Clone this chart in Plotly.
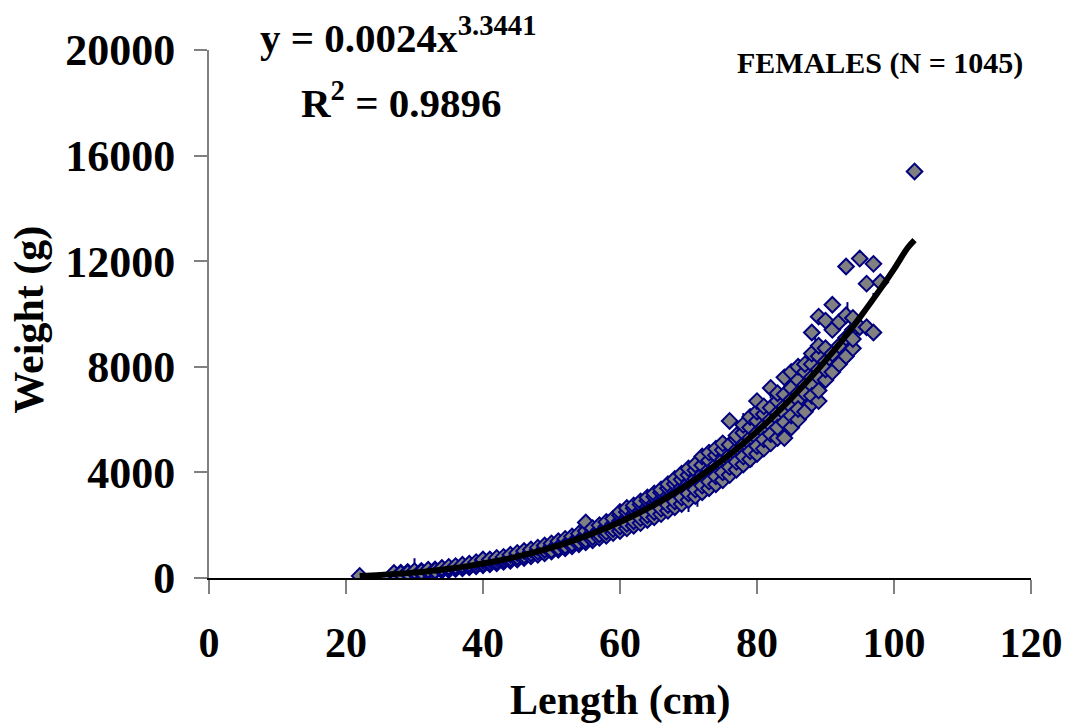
import plotly.graph_objects as go

# length (cm) -> weights (g), grouped by length
points = {
    22: [80],
    27: [150, 190],
    28: [140, 200, 170],
    29: [160, 230, 190],
    30: [180, 240, 210, 260],
    31: [200, 270, 230],
    32: [230, 290, 260, 310],
    33: [250, 320, 280],
    34: [280, 350, 310, 380],
    35: [300, 390, 340, 420],
    36: [340, 420, 380, 450],
    37: [370, 460, 410, 500],
    38: [410, 500, 450, 540],
    39: [440, 540, 490, 600],
    40: [480, 600, 540, 650, 700],
    41: [520, 640, 590, 700],
    42: [560, 690, 640, 760],
    43: [610, 740, 690, 800],
    44: [650, 800, 740, 880],
    45: [700, 860, 800, 950],
    46: [760, 930, 860, 1020],
    47: [820, 990, 930, 1080],
    48: [880, 1060, 1000, 1150],
    49: [940, 1130, 1070, 1230],
    50: [1000, 1200, 1130, 1310, 1050],
    51: [1070, 1280, 1200, 1390, 1150],
    52: [1130, 1360, 1290, 1480, 1220],
    53: [1200, 1450, 1370, 1570, 1300],
    54: [1280, 1540, 1450, 1680, 1380],
    55: [1350, 1630, 1550, 1780, 1450, 2100],
    56: [1430, 1730, 1640, 1890, 1550],
    57: [1520, 1830, 1740, 2000, 1650],
    58: [1600, 1940, 1850, 2120, 1750],
    59: [1700, 2050, 1960, 2250, 1850],
    60: [1780, 2160, 2080, 2380, 1950, 2500],
    61: [1880, 2290, 2200, 2500, 2050, 2650],
    62: [1980, 2420, 2320, 2640, 2150, 2750],
    63: [2080, 2550, 2450, 2780, 2270, 2900],
    64: [2200, 2690, 2580, 2930, 2380, 3050],
    65: [2300, 2830, 2720, 3080, 2500, 3200],
    66: [2420, 2970, 2860, 3240, 2630, 3350],
    67: [2550, 3120, 3000, 3400, 2760, 3550],
    68: [2680, 3270, 3150, 3560, 2900, 3750],
    69: [2800, 3420, 3300, 3730, 3050, 3950],
    70: [2950, 3580, 3450, 3900, 3200, 4150],
    71: [3100, 3750, 3600, 4080, 3350, 4300],
    72: [3250, 3920, 3780, 4270, 3500, 4600],
    73: [3400, 4100, 3950, 4450, 3650, 4750],
    74: [3550, 4280, 4120, 4650, 3850, 4900],
    75: [3700, 4470, 4300, 4850, 4000, 5100],
    76: [3900, 4650, 4500, 5050, 4200, 5950],
    77: [4100, 4850, 4700, 5250, 4400, 5400],
    78: [4300, 5050, 4900, 5500, 4600, 5800],
    79: [4500, 5300, 5100, 5700, 4800, 6100],
    80: [4700, 5500, 5300, 5950, 5000, 6300, 6700],
    81: [4900, 5750, 5550, 6200, 5250, 6500],
    82: [5100, 6000, 5800, 6450, 5450, 7200],
    83: [5300, 6250, 6050, 6700, 5700, 7000],
    84: [5300, 6500, 6250, 6950, 5900, 7600],
    85: [5700, 6750, 6500, 7200, 6150, 7800],
    86: [6000, 7000, 6750, 7500, 6400, 8000],
    87: [6300, 7300, 7000, 7800, 8100],
    88: [6600, 7600, 7300, 8100, 6900, 8500, 9300],
    89: [6700, 7900, 7600, 8400, 7100, 8800, 9900],
    90: [7500, 8200, 7900, 8700, 9750],
    91: [7800, 8500, 9400, 10350],
    92: [8100, 8800, 9700],
    93: [8400, 9100, 11800, 9950],
    94: [8700, 9400, 9850, 9050],
    95: [9500, 12100],
    96: [9500, 11150],
    97: [11900, 9300],
    98: [11200],
    103: [15400],
}

# short vertical dark-blue strokes: (length, low weight, high weight)
strokes = [
    (30, 100, 750), (57, 1400, 1700), (64, 2300, 2800), (67, 2700, 3200),
    (70, 2500, 3200), (71.3, 2700, 3400), (76.5, 4300, 4800), (78, 5800, 6250),
    (79.2, 4200, 5000), (82, 6800, 7300), (84, 7000, 7300), (86.3, 6100, 6550),
    (88.5, 8300, 9300), (93.2, 9960, 10450), (97, 10500, 10800),
]

# fitted power curve as drawn
curve_x = [22, 25, 28, 30, 32, 35, 38, 40, 42, 45, 48, 50, 52, 55, 58, 60, 62, 65, 68, 70,
           72, 75, 78, 80, 82, 85, 88, 90, 92, 95, 98, 100, 102, 103]
curve_y = [74, 114, 166, 209, 259, 349, 460, 547, 643, 810, 1006, 1153, 1313, 1585, 1893,
           2122, 2366, 2773, 3225, 3553, 3904, 4473, 5100, 5551, 6029, 6802, 7639, 8232,
           8858, 9864, 10942, 11702, 12509, 12800]

x_ticks = [0, 20, 40, 60, 80, 100, 120]
y_ticks = [0, 4000, 8000, 12000, 16000, 20000]

lengths = [L for L, ws in points.items() for w in ws]
weights = [w for L, ws in points.items() for w in ws]

sx, sy = [], []
for L, lo, hi in strokes:
    sx += [L, L, None]
    sy += [lo, hi, None]

serif = 'Liberation Serif, Times New Roman, serif'


def note(text, x, y, size, **kw):
    return dict(text=text, xref='paper', yref='paper', x=x, y=y,
                xanchor='center', yanchor='middle', showarrow=False,
                font=dict(size=size, family=serif), **kw)


fig = go.Figure()
fig.add_trace(go.Scatter(x=sx, y=sy, mode='lines', line=dict(color='#000080', width=2),
                         hoverinfo='skip'))
fig.add_trace(go.Scatter(x=lengths, y=weights, mode='markers',
                         marker=dict(symbol='diamond', size=12, color='#808080',
                                     line=dict(color='#000080', width=2))))
fig.add_trace(go.Scatter(x=curve_x, y=curve_y, mode='lines',
                         line=dict(color='black', width=6, shape='spline')))

# the page puts the chart 8px in from the top-left corner, so the margins allow for it
fig.update_layout(
    width=1072, height=723,
    margin=dict(l=201, r=49, t=42, b=153),
    paper_bgcolor='white', plot_bgcolor='white',
    showlegend=False,
    font=dict(family=serif, color='black'),
    xaxis=dict(range=[0, 120], tickvals=x_ticks,
               ticktext=['<b>%d</b>' % v for v in x_ticks],
               showgrid=False, zeroline=False, showline=True,
               linecolor='black', linewidth=2,
               ticks='outside', ticklen=14, tickwidth=2, tickcolor='#808080',
               ticklabelstandoff=13,
               tickfont=dict(size=42, family=serif)),
    yaxis=dict(range=[0, 20000], tickvals=y_ticks,
               ticktext=['<b>%d</b>' % v for v in y_ticks],
               showgrid=False, zeroline=False, showline=True,
               linecolor='#808080', linewidth=2,
               ticks='outside', ticklen=13, tickwidth=2, tickcolor='#808080',
               ticklabelstandoff=10,
               tickfont=dict(size=44, family=serif)),
    annotations=[
        note('<b>Length (cm)</b>', 0.5, -0.232, 42),
        note('<b>Weight (g)</b>', -0.218, 0.489, 42, textangle=-90),
        note('<b>y = 0.0024x<sup>3.3441</sup></b>', 0.231, 1.028, 41),
        note('<b>R<sup>2</sup> = 0.9896</b>', 0.234, 0.905, 41),
        note('<b>FEMALES (N = 1045)</b>', 0.816, 0.975, 30),
    ],
)

fig.write_html('out.html')
